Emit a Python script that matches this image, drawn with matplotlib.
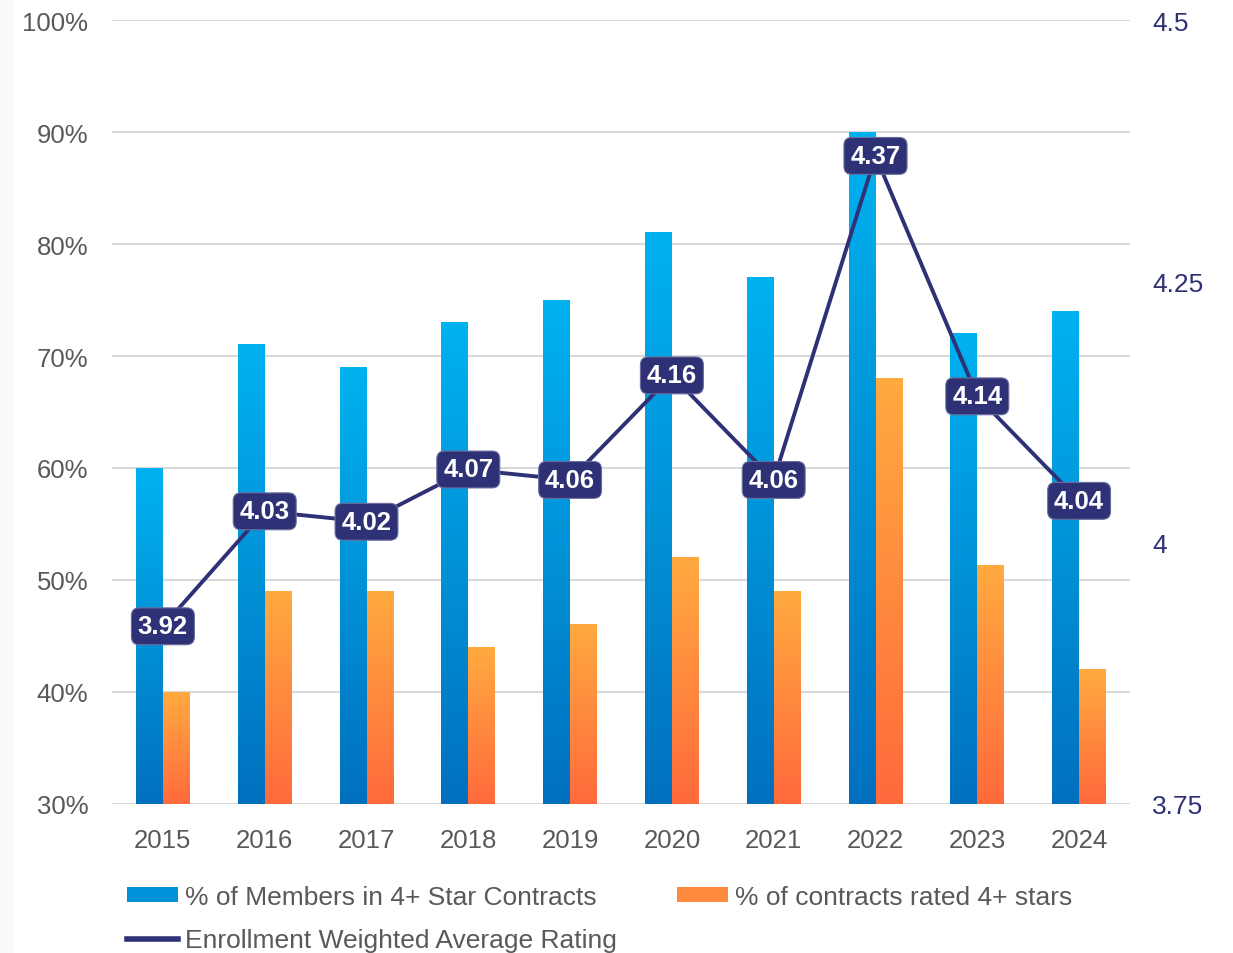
import matplotlib

matplotlib.use("Agg")
import matplotlib.pyplot as plt
import matplotlib.colors as mcolors
from matplotlib.patches import Patch, Rectangle
from matplotlib.lines import Line2D
import numpy as np

# ── Data ──────────────────────────────────────────────────────────────────────
years = ["2015", "2016", "2017", "2018", "2019", "2020", "2021", "2022", "2023", "2024"]
members_pct = [60, 71, 69, 73, 75, 81, 77, 90, 72, 74]
contracts_pct = [40, 49, 49, 44, 46, 52, 49, 68, 51.3, 42]
avg_rating = [3.92, 4.03, 4.02, 4.07, 4.06, 4.16, 4.06, 4.37, 4.14, 4.04]

# ── Style ─────────────────────────────────────────────────────────────────────
plt.rcParams["font.family"] = ["Liberation Sans", "DejaVu Sans"]
GRAY = "#595959"
NAVY = "#2E3175"
BLUE_TOP, BLUE_BOT = "#00B2F0", "#0070BE"
ORNG_TOP, ORNG_BOT = "#FFAA40", "#FF6A3C"

fig = plt.figure(figsize=(12.33, 9.54), dpi=100)
# faint strip on the left edge
fig.add_artist(Rectangle((0, 0), 14 / 1233, 1, transform=fig.transFigure,
                         facecolor="#FAFAFA", edgecolor="none", zorder=0))
ax = fig.add_axes([112 / 1233, 1 - 805 / 954, (1130 - 112) / 1233, (805 - 21) / 954])
ax2 = ax.twinx()

x = np.arange(len(years))
w = 0.265


def gradient_bars(ax, xs, vals, top, bot):
    bars = ax.bar(xs, vals, w, bottom=0, color="none", edgecolor="none", zorder=2)
    cmap = mcolors.LinearSegmentedColormap.from_list("g", [bot, top])
    grad = np.linspace(0, 1, 256).reshape(-1, 1)
    for b in bars:
        x0, y0 = b.get_x(), 30
        x1, y1 = x0 + b.get_width(), b.get_height()
        ax.imshow(grad, cmap=cmap, origin="lower", aspect="auto",
                  extent=(x0, x1, y0, y1), zorder=2)
    return bars


gradient_bars(ax, x - w / 2, members_pct, BLUE_TOP, BLUE_BOT)
gradient_bars(ax, x + w / 2, contracts_pct, ORNG_TOP, ORNG_BOT)

ax.set_xlim(-0.5, len(years) - 0.5)
ax.set_ylim(30, 100)
ax.set_yticks(range(30, 101, 10))
ax.set_yticklabels([f"{v}%" for v in range(30, 101, 10)])
ax.set_xticks(x)
ax.set_xticklabels(years)
ax.grid(axis="y", color="#D9D9D9", linewidth=1.5, zorder=0)
ax.set_axisbelow(True)
ax.tick_params(axis="both", length=0, labelsize=18.5, colors=GRAY)
ax.tick_params(axis="y", pad=17)
ax.tick_params(axis="x", pad=17)
for s in ax.spines.values():
    s.set_visible(False)

ax2.plot(x, avg_rating, color=NAVY, linewidth=2.8, zorder=3)
for xi, r in zip(x, avg_rating):
    ax2.text(xi, r, f"{r:.2f}", ha="center", va="center", fontsize=18.5,
             fontweight="bold", color="white", zorder=4,
             bbox=dict(boxstyle="round,pad=0.25,rounding_size=0.3",
                       facecolor=NAVY, edgecolor="#6A6E9E", linewidth=0.8))
ax2.set_ylim(3.75, 4.5)
ax2.set_yticks([3.75, 4, 4.25, 4.5])
ax2.set_yticklabels(["3.75", "4", "4.25", "4.5"])
ax2.tick_params(axis="y", length=0, labelsize=19, colors=NAVY, pad=16)
for s in ax2.spines.values():
    s.set_visible(False)

handles = [
    Patch(facecolor="#0092D8", edgecolor="none"),
    Line2D([0], [0], color=NAVY, linewidth=4),
    Patch(facecolor="#FF8A3E", edgecolor="none"),
]
labels = [
    "% of Members in 4+ Star Contracts",
    "Enrollment Weighted Average Rating",
    "% of contracts rated 4+ stars",
]
fig.legend(handles, labels, ncol=2, frameon=False, fontsize=19,
           labelcolor=GRAY, loc="upper left", bbox_to_anchor=(127 / 1233, 1 - 886 / 954),
           handlelength=1.95, handleheight=0.5, handletextpad=0.25,
           columnspacing=2.27, labelspacing=0.72, borderaxespad=0, borderpad=0)

fig.savefig("out.png", dpi=100)
